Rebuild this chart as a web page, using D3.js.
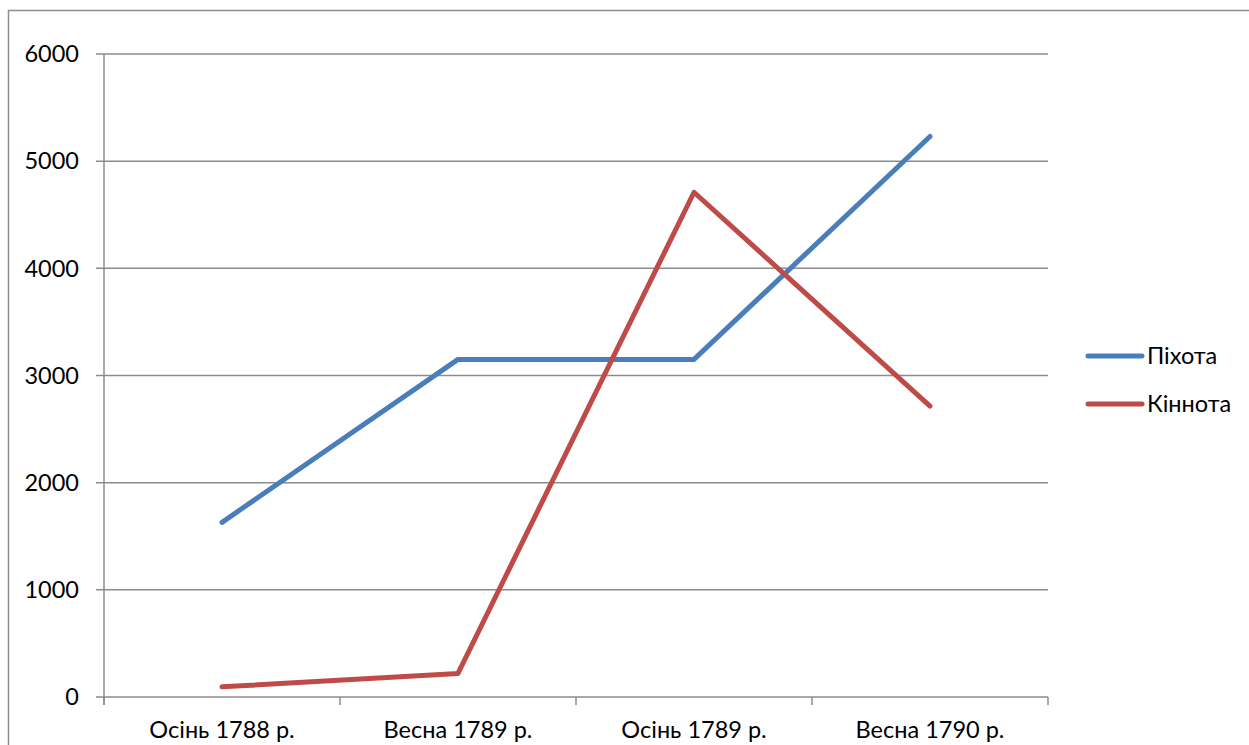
<!DOCTYPE html>
<html><head><meta charset="utf-8">
<script src="https://cdn.jsdelivr.net/npm/d3@7"></script>
<style>body{margin:0;background:#fff;}svg{display:block;}text{font-family:Lato,"Open Sans",sans-serif;fill:#000;}</style>
</head><body><svg id="c" width="1249" height="745"></svg>
<script>
const categories = ["Осінь 1788 р.", "Весна 1789 р.", "Осінь 1789 р.", "Весна 1790 р."];
const pikhota = [1630, 3150, 3150, 5230];
const kinnota = [95, 220, 4710, 2715];
const seriesNames = ["Піхота", "Кіннота"];
const colors = ["#4a7ebb", "#be4b48"];
const yTicks = [0, 1000, 2000, 3000, 4000, 5000, 6000];
const FS = "23.5px";

const svg = d3.select("#c");
// outer border
svg.append("rect").attr("x", 8.5).attr("y", 10.5).attr("width", 1260).attr("height", 760)
  .attr("fill", "none").attr("stroke", "#8c8c8c").attr("stroke-width", 1.5);

const L = 104, R = 1048, T = 54, B = 697;
const x = d3.scaleBand().domain(categories).range([L, R]);
const y = d3.scaleLinear().domain([0, 6000]).range([B, T]);
const g = svg.append("g");

// gridlines
g.selectAll("line.grid").data(yTicks).enter().append("line")
  .attr("x1", L - 8).attr("x2", R).attr("y1", d => y(d)).attr("y2", d => y(d))
  .attr("stroke", "#8c8c8c").attr("stroke-width", 1.5);
// y axis line
g.append("line").attr("x1", L).attr("x2", L).attr("y1", T).attr("y2", B + 8)
  .attr("stroke", "#8c8c8c").attr("stroke-width", 1.5);
// x ticks
const xt = categories.map(c => x(c)).concat([R]);
g.selectAll("line.xt").data(xt).enter().append("line")
  .attr("x1", d => d).attr("x2", d => d).attr("y1", B).attr("y2", B + 8)
  .attr("stroke", "#8c8c8c").attr("stroke-width", 1.5);

// y labels
g.selectAll("text.yl").data(yTicks).enter().append("text")
  .attr("x", 79).attr("y", d => y(d)).attr("dy", "0.35em").attr("text-anchor", "end")
  .style("font-size", FS).text(d => d);
// x labels
g.selectAll("text.xl").data(categories).enter().append("text")
  .attr("x", d => x(d) + x.bandwidth() / 2).attr("y", 738).attr("text-anchor", "middle")
  .style("font-size", FS).text(d => d);

const line = d3.line().x((d, i) => x(categories[i]) + x.bandwidth() / 2).y(d => y(d));
[pikhota, kinnota].forEach((s, i) => {
  g.append("path").datum(s).attr("d", line).attr("fill", "none")
    .attr("stroke", colors[i]).attr("stroke-width", 5).attr("stroke-linecap", "round").attr("stroke-linejoin", "round");
});

// legend
const leg = svg.append("g");
seriesNames.forEach((n, i) => {
  const yy = 356 + i * 48;
  leg.append("line").attr("x1", 1088).attr("x2", 1142).attr("y1", yy).attr("y2", yy)
    .attr("stroke", colors[i]).attr("stroke-width", 5).attr("stroke-linecap", "round");
  leg.append("text").attr("x", 1147).attr("y", yy).attr("dy", "0.35em").style("font-size", FS).text(n);
});
</script></body></html>
